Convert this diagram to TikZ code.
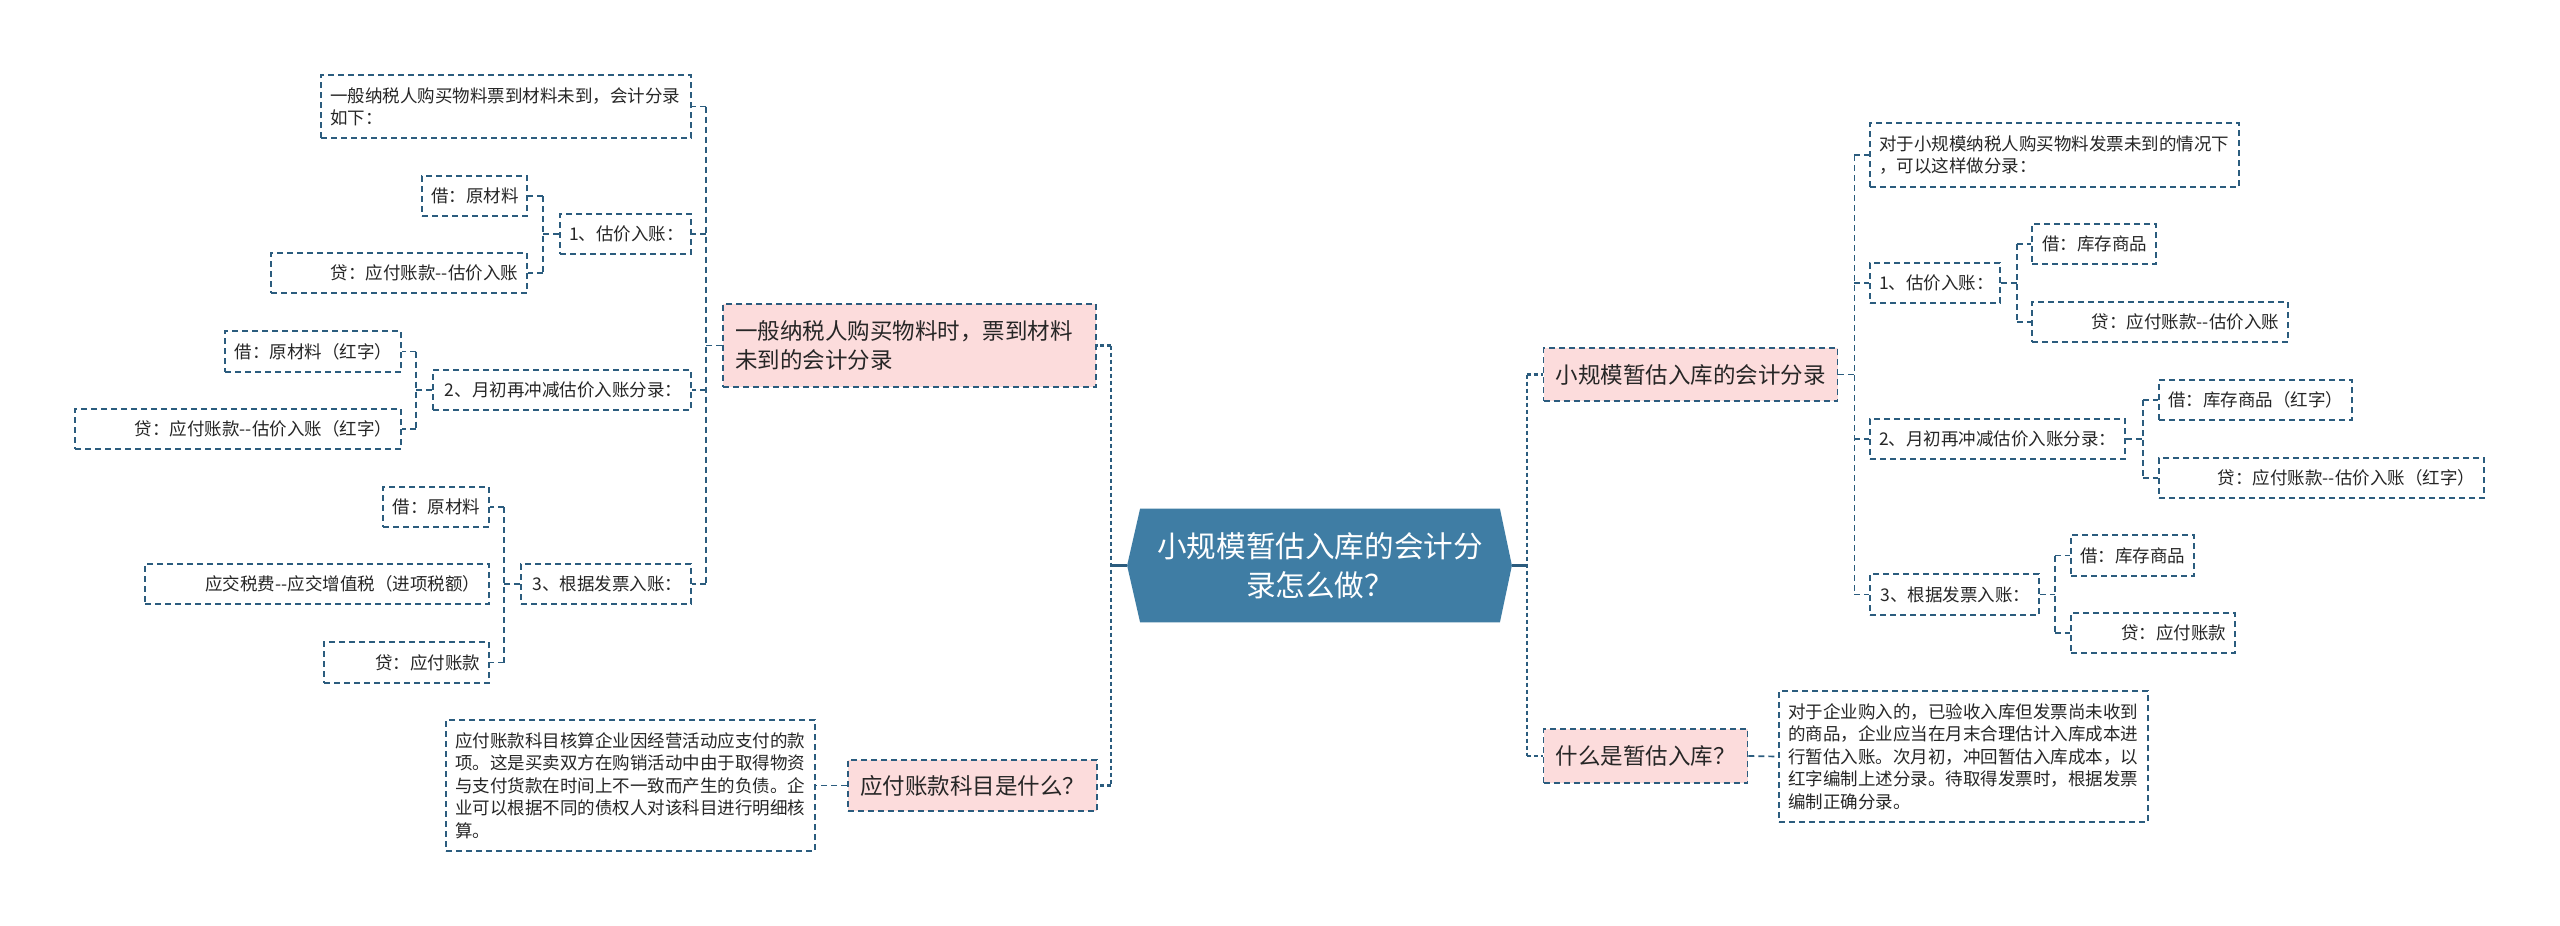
\documentclass[tikz,border=0pt]{standalone}
\usepackage{fontspec}
\setmainfont{Noto Sans CJK SC}
\usetikzlibrary{calc,backgrounds}
\definecolor{lnc}{HTML}{2B5C7E}
\definecolor{hexc}{HTML}{3F7DA4}
\definecolor{pinkc}{HTML}{FCDCDC}
\definecolor{txc}{HTML}{262626}
\begin{document}
\begin{tikzpicture}[x=0.5pt,y=-0.5pt,
  box/.style={draw=lnc, line width=0.85pt, dash pattern=on 3pt off 2pt, inner xsep=4.5pt, inner ysep=2pt, font=\fontsize{8.75}{11}\selectfont, text=txc},
  sbox/.style={box, align=right, minimum height=20pt},
  tbox/.style={box, align=left, font=\fontsize{8.75}{11.25}\selectfont},
  pbox/.style={box, fill=pinkc, inner xsep=6pt, font=\fontsize{11.25}{14.5}\selectfont},
  lk/.style={draw=lnc, line width=0.85pt, dash pattern=on 3pt off 2pt},
  lkm/.style={draw=lnc, line width=1.3pt, dash pattern=on 2pt off 1.5pt},
  lks/.style={draw=lnc, line width=1.3pt},
]
\useasboundingbox (0,0) rectangle (2560,926);

% root
\node[font=\fontsize{14.8}{19.5}\selectfont, text=white, align=center, minimum width=179.5pt, minimum height=56.5pt, inner sep=0pt] (root) at (1320,565.5) {小规模暂估入库的会计分\\录怎么做？};
\begin{scope}[on background layer]
\fill[white] (0,0) rectangle (2560,926);
\fill[hexc] (root.north west) -- (root.north east) -- ($(root.east)+(12,0)$) -- (root.south east) -- (root.south west) -- ($(root.west)+(-13,0)$) -- cycle;
\end{scope}
\coordinate (rl) at ($(root.west)+(-13,0)$);
\coordinate (rr) at ($(root.east)+(12,0)$);

% left side
\node[pbox, align=left, text width=174.5pt, minimum height=41.5pt] (P1) at (909.5,345.5) {一般纳税人购买物料时，票到材料\\未到的会计分录};
\node[pbox, align=center, minimum width=124.5pt, minimum height=25.5pt] (P2) at (972.5,785.5) {应付账款科目是什么？};
\node[tbox, text width=175.5pt, minimum height=65.5pt] (T1) at (630.5,785.5) {应付账款科目核算企业因经营活动应支付的款\\项。这是买卖双方在购销活动中由于取得物资\\与支付货款在时间上不一致而产生的负债。企\\业可以根据不同的债权人对该科目进行明细核\\算。};

\node[box, align=left, text width=176pt, minimum height=31.5pt] (A1) at (506,106.5) {一般纳税人购买物料票到材料未到，会计分录\\如下：};
\node[sbox, text width=43.5pt] (B1a) at (474.5,196) {借：原材料};
\node[sbox, text width=56.5pt] (B1) at (625.5,234) {1、估价入账：};
\node[sbox, text width=119pt] (B1b) at (399,273) {贷：应付账款-{}-估价入账};
\node[sbox, text width=79pt, minimum height=20.5pt] (B2a) at (313,351.5) {借：原材料（红字）};
\node[sbox, text width=120pt] (B2) at (562,390) {2、月初再冲减估价入账分录：};
\node[sbox, text width=154pt] (B2b) at (238,429) {贷：应付账款-{}-估价入账（红字）};
\node[sbox, text width=44pt] (B3a) at (436,507) {借：原材料};
\node[sbox, text width=163pt] (B3b) at (317,584) {应交税费-{}-应交增值税（进项税额）};
\node[sbox, text width=73.5pt, minimum height=20.5pt] (B3c) at (406.5,662.5) {贷：应付账款};
\node[sbox, text width=76pt] (B3) at (606,584) {3、根据发票入账：};

% right side
\node[pbox, align=center, minimum width=146.5pt, minimum height=26.5pt] (Q1) at (1690.5,374.5) {小规模暂估入库的会计分录};
\node[pbox, align=center, minimum width=101.5pt, minimum height=27pt] (Q2) at (1645.5,756) {什么是暂估入库？};
\node[box, align=left, text width=175.5pt, minimum height=32pt] (C0) at (2054.5,155) {对于小规模纳税人购买物料发票未到的情况下\\，可以这样做分录：};
\node[sbox, text width=56pt] (C1) at (1935,283) {1、估价入账：};
\node[sbox, text width=53pt] (C1a) at (2094,244) {借：库存商品};
\node[sbox, text width=119pt] (C1b) at (2160,322) {贷：应付账款-{}-估价入账};
\node[sbox, text width=118.5pt] (C2) at (1997.5,439) {2、月初再冲减估价入账分录：};
\node[sbox, text width=87.5pt] (C2a) at (2255.5,400) {借：库存商品（红字）};
\node[sbox, text width=153.5pt] (C2b) at (2321.5,478) {贷：应付账款-{}-估价入账（红字）};
\node[sbox, text width=75.5pt, minimum height=20.5pt] (C3) at (1954.5,594.5) {3、根据发票入账：};
\node[sbox, text width=52.5pt, minimum height=20.5pt] (C3a) at (2132.5,555.5) {借：库存商品};
\node[sbox, text width=73pt] (C3b) at (2153,633) {贷：应付账款};
\node[tbox, text width=175.5pt, minimum height=65.5pt] (T2) at (1963.5,756.5) {对于企业购入的，已验收入库但发票尚未收到\\的商品，企业应当在月末合理估计入库成本进\\行暂估入账。次月初，冲回暂估入库成本，以\\红字编制上述分录。待取得发票时，根据发票\\编制正确分录。};

% connectors: root level
\draw[lks] (rl) -- ++(-16,0) coordinate (lbus);
\draw[lkm] (lbus |- P1.east) -- (lbus |- P2.east);
\draw[lkm] (lbus |- P1.east) -- (P1.east);
\draw[lkm] (lbus |- P2.east) -- (P2.east);
\draw[lks] (rr) -- ++(15,0) coordinate (rbus);
\draw[lkm] (rbus |- Q1.west) -- (rbus |- Q2.west);
\draw[lkm] (rbus |- Q1.west) -- (Q1.west);
\draw[lkm] (rbus |- Q2.west) -- (Q2.west);

% left branches
\draw[lk] (P1.west) -- ++(-16,0) coordinate (p1b);
\draw[lk] (p1b |- A1.east) -- (p1b |- B3.east);
\foreach \n in {A1,B1,B2,B3} \draw[lk] (p1b |- \n.east) -- (\n.east);
\draw[lk] (B1.west) -- ++(-16,0) coordinate (b1b);
\draw[lk] (b1b |- B1a.east) -- (b1b |- B1b.east);
\foreach \n in {B1a,B1b} \draw[lk] (b1b |- \n.east) -- (\n.east);
\draw[lk] (B2.west) -- ++(-16,0) coordinate (b2b);
\draw[lk] (b2b |- B2a.east) -- (b2b |- B2b.east);
\foreach \n in {B2a,B2b} \draw[lk] (b2b |- \n.east) -- (\n.east);
\draw[lk] (B3.west) -- ++(-16,0) coordinate (b3b);
\draw[lk] (b3b |- B3a.east) -- (b3b |- B3c.east);
\foreach \n in {B3a,B3c} \draw[lk] (b3b |- \n.east) -- (\n.east);
\draw[lk] (P2.west) -- (T1.east);

% right branches
\draw[lk] (Q1.east) -- ++(16,0) coordinate (q1b);
\draw[lk] (q1b |- C0.west) -- (q1b |- C3.west);
\foreach \n in {C0,C1,C2,C3} \draw[lk] (q1b |- \n.west) -- (\n.west);
\draw[lk] (C1.east) -- ++(16,0) coordinate (c1b);
\draw[lk] (c1b |- C1a.west) -- (c1b |- C1b.west);
\foreach \n in {C1a,C1b} \draw[lk] (c1b |- \n.west) -- (\n.west);
\draw[lk] (C2.east) -- ++(17,0) coordinate (c2b);
\draw[lk] (c2b |- C2a.west) -- (c2b |- C2b.west);
\foreach \n in {C2a,C2b} \draw[lk] (c2b |- \n.west) -- (\n.west);
\draw[lk] (C3.east) -- ++(15,0) coordinate (c3b);
\draw[lk] (c3b |- C3a.west) -- (c3b |- C3b.west);
\foreach \n in {C3a,C3b} \draw[lk] (c3b |- \n.west) -- (\n.west);
\draw[lk] (Q2.east) -- (T2.west);
\end{tikzpicture}
\end{document}
